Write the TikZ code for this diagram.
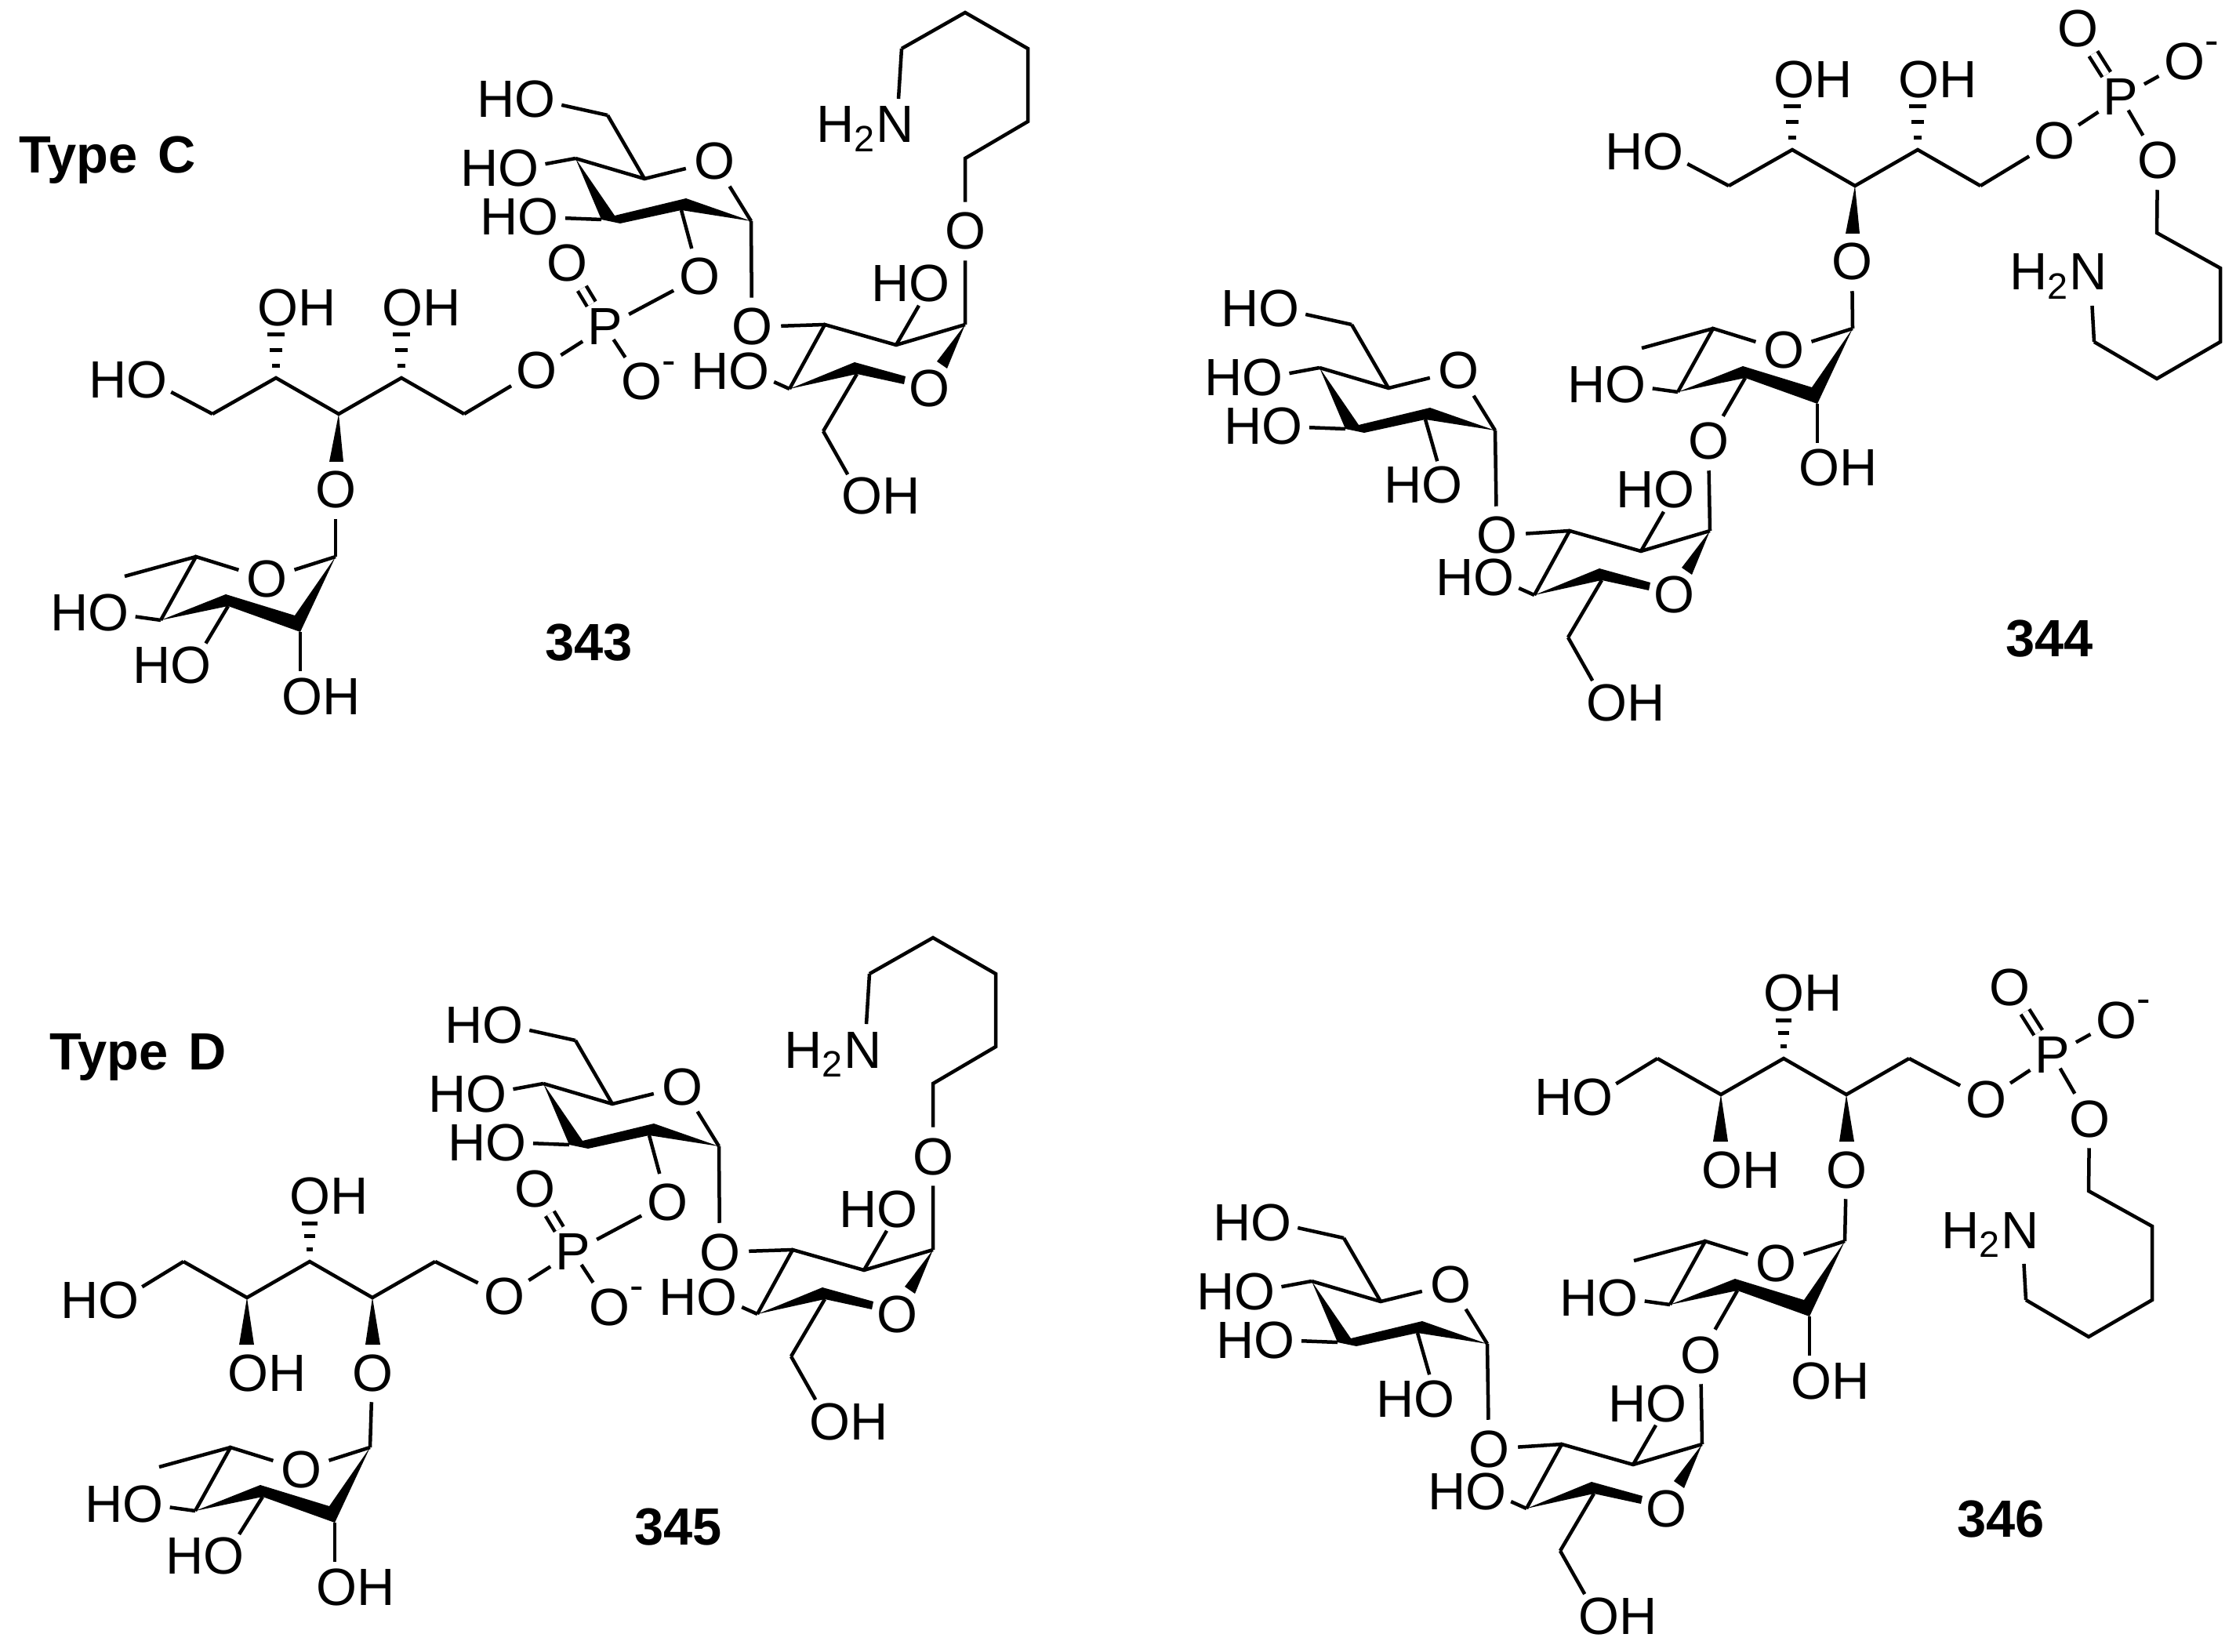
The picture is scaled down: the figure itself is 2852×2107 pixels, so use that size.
\documentclass[tikz,border=0pt]{standalone}
\usepackage{fontspec}
\setmainfont{Liberation Sans}

\tikzset{
  lab/.style={inner sep=0pt,font=\fontsize{19pt}{22pt}\selectfont},
  atom/.style={lab,circle},
  num/.style={lab,font=\fontsize{19pt}{22pt}\selectfont\bfseries},
  chg/.style={inner sep=0pt,font=\fontsize{15pt}{18pt}\selectfont},
  hobond/.style={shorten <=.32cm},
  nbond/.style={shorten <=.44cm},
  pshort/.style={shorten <=-.15cm},
  dbl/.style={double,double distance=.08cm},
  hash/.style={line width=.05cm}
}

% text labels, #2 is the centre of the O
\newcommand{\hoat}[2]{\node[lab,anchor=east,xshift=.26cm] (#1) at (#2) {HO}; \coordinate (#1o) at (#2);}
\newcommand{\ohat}[2]{\node[lab,anchor=west,xshift=-.26cm] (#1) at (#2) {OH}; \coordinate (#1o) at (#2);}

% deoxy sugar, origin on the anomeric carbon
\newcommand{\fucunit}[2]{\begin{scope}[shift={(#2)},name prefix=#1-]
  \coordinate (c1) at (0,0);
  \coordinate (c2) at (-45,96);
  \coordinate (c3) at (-137,63);
  \coordinate (c4) at (-223,81);
  \coordinate (c5) at (-178,0);
  \coordinate (me) at (-269,25);
  \node[atom] (o5) at (-88,28) {O};
  \hoat{ho4}{-287,72}
  \ohat{oh2}{-45,178}
  \draw (c1) -- (o5) -- (c5) -- (c4);
  \draw (c5) -- (me);
  \draw[hobond] (ho4o) -- (c4);
  \draw[hobond] (oh2o) -- (c2);
  \fill (c4) -- (-140,48) -- (-52,75) -- (c1) -- (c2) -- (c3) -- cycle;
\end{scope}}

% upper hexose
\newcommand{\manunit}[2]{\begin{scope}[shift={(#2)},name prefix=#1-]
  \coordinate (c1) at (0,0);
  \coordinate (c2) at (-89,-14);
  \coordinate (c3) at (-191,-2);
  \coordinate (c4) at (-224,-80);
  \coordinate (c5) at (-136,-54);
  \coordinate (c6) at (-183,-135);
  \node[atom] (o5) at (-47,-76) {O};
  \hoat{ho6}{-273,-155}
  \hoat{ho4}{-294,-67}
  \hoat{ho3}{-269,-5}
  \draw (c1) -- (o5) -- (c5) -- (c4);
  \draw (c5) -- (c6);
  \draw[hobond] (ho6o) -- (c6);
  \draw[hobond] (ho4o) -- (c4);
  \draw[hobond] (ho3o) -- (c3);
  \fill (c4) -- (-174,-7) -- (-83,-29) -- (c1) -- (c2) -- (-167,3) -- (c3) -- cycle;
\end{scope}}

% lower hexose
\newcommand{\lowunit}[2]{\begin{scope}[shift={(#2)},name prefix=#1-]
  \coordinate (c1) at (0,0);
  \coordinate (c2) at (-88,26);
  \coordinate (c3) at (-179,0);
  \coordinate (c4) at (-224,82);
  \coordinate (c5) at (-138,63);
  \coordinate (c6) at (-181,136);
  \node[atom] (o5) at (-46,82) {O};
  \hoat{ho2}{-43,-52}
  \hoat{ho4}{-273,60}
  \ohat{oh6}{-134,219}
  \draw (c1) -- (c2) -- (c3) -- (c4);
  \draw (c5) -- (c6);
  \draw[hobond] (ho2o) -- (c2);
  \draw[hobond] (ho4o) -- (c4);
  \draw[hobond] (oh6o) -- (c6);
  \fill (c1) -- (-36,47) -- (-23,56) -- cycle;
  \fill (c4) -- (-141,48) -- (-76,66) -- (-78,76) -- (c5) -- cycle;
\end{scope}}

% pentitol with both OH up
\newcommand{\chainup}[2]{\begin{scope}[shift={(#2)},name prefix=#1-]
  \coordinate (c1) at (0,0);
  \coordinate (c2) at (81,-46);
  \coordinate (c3) at (161,0);
  \coordinate (c4) at (241,-46);
  \coordinate (c5) at (321,0);
  \hoat{ho1}{-81,-43}
  \ohat{oh2}{81,-135}
  \ohat{oh4}{240,-135}
  \node[atom] (o3) at (157,97) {O};
  \draw[hobond] (ho1o) -- (c1);
  \draw (c1) -- (c2) -- (c3) -- (c4) -- (c5);
  \fill (c3) -- (149,61) -- (167,61) -- cycle;
  \foreach \dy/\w in {15/5,35/8,55/11} {
    \draw[hash] (c2) ++(-\w,-\dy) -- ++(2*\w,0);
    \draw[hash] (c4) ++(-\w,-\dy) -- ++(2*\w,0);
  }
\end{scope}}

% pentitol with one OH up, one down
\newcommand{\chaindown}[2]{\begin{scope}[shift={(#2)},name prefix=#1-]
  \coordinate (c1) at (0,0);
  \coordinate (c2) at (81,46);
  \coordinate (c3) at (161,0);
  \coordinate (c4) at (241,46);
  \coordinate (c5) at (321,0);
  \hoat{ho1}{-80,49}
  \ohat{oh3}{159,-84}
  \ohat{oh2}{80,142}
  \node[atom] (o4) at (241,142) {O};
  \draw[hobond] (ho1o) -- (c1);
  \draw (c1) -- (c2) -- (c3) -- (c4) -- (c5);
  \fill (c2) -- (71,106) -- (90,106) -- cycle;
  \fill (c4) -- (232,106) -- (251,106) -- cycle;
  \foreach \dy/\w in {16/4,33/7,49/10}
    \draw[hash] (c3) ++(-\w,-\dy) -- ++(2*\w,0);
\end{scope}}

% phosphate bridging the two hexoses, amine on top
\newcommand{\sidecyc}[2]{\begin{scope}[shift={(#2)}]
  \manunit{#1m}{958,282}
  \lowunit{#1l}{1231,414}
  \node[atom] (#1p) at (772,417) {P};
  \node[atom] (#1po) at (684,473) {O};
  \node[atom] (#1pd) at (723,336) {O};
  \node[atom] (#1pm) at (818,487) {O};
  \node[chg] (#1pc) at (853,469) {-};
  \node[atom] (#1o2) at (892,353) {O};
  \node[atom] (#1o4) at (959,417) {O};
  \node[atom] (#1oa) at (1231,295) {O};
  \node[lab,anchor=base east] (#1n) at (1168,182) {H\textsubscript{2}N};
  \coordinate (#1no) at (1144,158);
  \coordinate (#1k1) at (1231,202);
  \coordinate (#1k2) at (1311,155);
  \coordinate (#1k3) at (1311,62);
  \coordinate (#1k4) at (1231,16);
  \coordinate (#1k5) at (1150,62);
  \draw (#1m-c2) -- (#1o2) -- (#1p) -- (#1po);
  \draw[dbl] (#1p) -- (#1pd);
  \draw[pshort] (#1p) -- (#1pm);
  \draw (#1m-c1) -- (#1o4) -- (#1l-c3);
  \draw (#1l-c1) -- (#1oa) -- (#1k1) -- (#1k2) -- (#1k3) -- (#1k4) -- (#1k5);
  \draw[hobond] (#1no) -- (#1k5);
\end{scope}}

% both hexoses on the deoxy sugar
\newcommand{\sidesug}[2]{\begin{scope}[shift={(#2)}]
  \lowunit{#1l}{2181,677}
  \manunit{#1m}{1907,549}
  \node[atom] (#1o3) at (2179,563) {O};
  \node[atom] (#1o4) at (1909,683) {O};
  \hoat{#1ho}{1842,619}
  \draw (#1o3) -- (#1l-c1);
  \draw (#1m-c1) -- (#1o4) -- (#1l-c3);
  \draw[hobond] (#1hoo) -- (#1m-c2);
\end{scope}}

% phosphate and amine at the right end
\newcommand{\sidephos}[2]{\begin{scope}[shift={(#2)}]
  \node[atom] (#1p) at (2705,124) {P};
  \node[atom] (#1po) at (2620,180) {O};
  \node[atom] (#1pd) at (2650,37) {O};
  \node[atom] (#1pm) at (2786,79) {O};
  \node[chg] (#1pc) at (2821,61) {-};
  \node[atom] (#1pl) at (2752,205) {O};
  \node[lab,anchor=base east] (#1n) at (2690,370) {H\textsubscript{2}N};
  \coordinate (#1no) at (2666,346);
  \coordinate (#1k1) at (2751,297);
  \coordinate (#1k2) at (2832,342);
  \coordinate (#1k3) at (2832,436);
  \coordinate (#1k4) at (2751,483);
  \coordinate (#1k5) at (2671,436);
  \draw (#1po) -- (#1p) -- (#1pm);
  \draw[dbl] (#1p) -- (#1pd);
  \draw[pshort] (#1p) -- (#1pl);
  \draw (#1pl) -- (#1k1) -- (#1k2) -- (#1k3) -- (#1k4) -- (#1k5);
  \draw[nbond] (#1no) -- (#1k5);
\end{scope}}

\begin{document}
\begin{tikzpicture}[x=0.01cm,y=-0.01cm,line width=.045cm]
  \useasboundingbox (0,0) rectangle (2852,2107);

  \node[num,anchor=base west] (typec) at (22,221) {Type\hspace{.11em} C};
  \node[num,anchor=base west] (typed) at (61,1364) {Type\hspace{.11em} D};

  % 343
  \chainup{a}{271,528}
  \fucunit{af}{428,710}
  \sidecyc{a}{0,0}
  \hoat{aho}{246,848}
  \draw (a-o3) -- (af-c1);
  \draw[hobond] (ahoo) -- (af-c3);
  \draw (a-c5) -- (apo);
  \node[num] (n343) at (751,820) {343};

  % 344
  \chainup{b}{2205,237}
  \fucunit{bf}{2363,419}
  \sidesug{b}{0,0}
  \sidephos{b}{0,0}
  \draw (b-o3) -- (bf-c1);
  \draw (bf-c3) -- (bo3);
  \draw (b-c5) -- (bpo);
  \node[num] (n344) at (2614,815) {344};

  % 345
  \chaindown{c}{234,1609}
  \fucunit{cf}{472,1846}
  \sidecyc{c}{-41,1180}
  \hoat{cho}{288,1984}
  \draw (c-o4) -- (cf-c1);
  \draw[hobond] (choo) -- (cf-c3);
  \draw (c-c5) -- (cpo);
  \node[num] (n345) at (865,1948) {345};

  % 346
  \chaindown{d}{2114,1350}
  \fucunit{df}{2353,1583}
  \sidesug{d}{-10,1165}
  \sidephos{d}{-87,1222}
  \draw (d-o4) -- (df-c1);
  \draw (df-c3) -- (do3);
  \draw (d-c5) -- (dpo);
  \node[num] (n346) at (2552,1938) {346};
\end{tikzpicture}
\end{document}
